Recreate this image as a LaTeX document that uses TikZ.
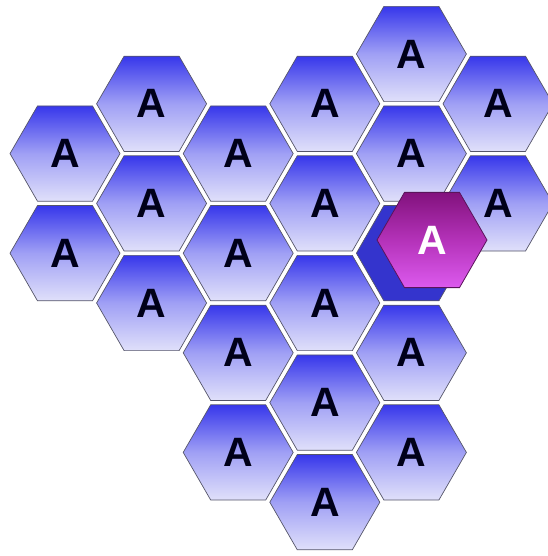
\documentclass[tikz,border=0pt]{standalone}
\usepackage{fontspec}
\setmainfont{Liberation Sans}
\usetikzlibrary{shapes.geometric}
\definecolor{hextop}{RGB}{55,55,235}
\definecolor{hexmid}{RGB}{160,160,245}
\definecolor{hexbot}{RGB}{224,224,250}
\definecolor{hexline}{RGB}{85,85,105}
\definecolor{purtop}{RGB}{130,18,125}
\definecolor{purmid}{RGB}{180,50,185}
\definecolor{purbot}{RGB}{220,90,238}
\definecolor{purline}{RGB}{90,20,90}
\definecolor{shadowblue}{RGB}{52,52,205}
\tikzset{
  hexcell/.style={regular polygon, regular polygon sides=6, minimum size=110pt,
    inner sep=0pt, outer sep=0pt, top color=hextop, bottom color=hexbot,
    middle color=hexmid,
    draw=hexline, line width=0.7pt, text=black!90!blue,
    font=\fontsize{41}{41}\selectfont\bfseries},
  shadowcell/.style={regular polygon, regular polygon sides=6, minimum size=110pt,
    inner sep=0pt, outer sep=0pt, fill=shadowblue, draw=hexline, line width=0.7pt},
  purplecell/.style={regular polygon, regular polygon sides=6, minimum size=110pt,
    inner sep=0pt, outer sep=0pt, top color=purtop, bottom color=purbot,
    middle color=purmid,
    draw=purline, line width=0.8pt, text=white,
    font=\fontsize{41}{41}\selectfont\bfseries}
}
\begin{document}
\begin{tikzpicture}[x=1pt,y=-1pt]
\useasboundingbox (0,0) rectangle (547,556);
% column 0
\node[hexcell] (c0a) at (65,153.6) {A};
\node[hexcell] (c0b) at (65,253.2) {A};
% column 1
\node[hexcell] (c1a) at (151.6,103.8) {A};
\node[hexcell] (c1b) at (151.6,203.4) {A};
\node[hexcell] (c1c) at (151.6,303.0) {A};
% column 2
\node[hexcell] (c2a) at (238.2,153.6) {A};
\node[hexcell] (c2b) at (238.2,253.2) {A};
\node[hexcell] (c2c) at (238.2,352.8) {A};
\node[hexcell] (c2d) at (238.2,452.4) {A};
% column 3
\node[hexcell] (c3a) at (324.8,103.8) {A};
\node[hexcell] (c3b) at (324.8,203.4) {A};
\node[hexcell] (c3c) at (324.8,303.0) {A};
\node[hexcell] (c3d) at (324.8,402.6) {A};
\node[hexcell] (c3e) at (324.8,502.2) {A};
% column 4
\node[hexcell] (c4a) at (411.4,54) {A};
\node[hexcell] (c4b) at (411.4,153.6) {A};
\node[shadowcell] (c4s) at (411.4,253.2) {};
\node[hexcell] (c4c) at (411.4,352.8) {A};
\node[hexcell] (c4d) at (411.4,452.4) {A};
% column 5
\node[hexcell] (c5a) at (498,103.8) {A};
\node[hexcell] (c5b) at (498,203.4) {A};
% raised purple cell
\node[purplecell] (pc) at (432,240) {A};
\end{tikzpicture}
\end{document}
